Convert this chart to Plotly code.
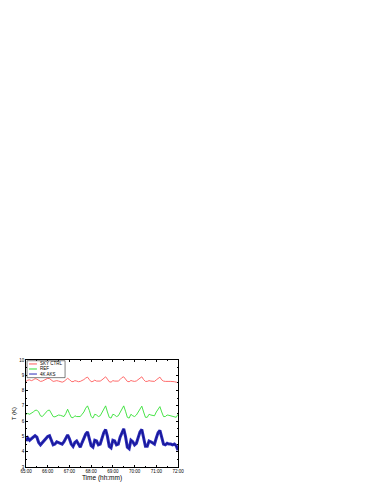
import plotly.graph_objects as go

# minutes after 65:00
minutes = [0, 5, 10, 15, 20, 25, 30, 35, 40, 45, 50, 55, 60, 65, 70, 75, 80, 85, 90, 95,
           100, 105, 110, 115, 120, 125, 130, 135, 140, 145, 150, 155, 160, 165, 170, 175, 180, 185, 190, 195,
           200, 205, 210, 215, 220, 225, 230, 235, 240, 245, 250, 255, 260, 265, 270, 275, 280, 285, 290, 295,
           300, 305, 310, 315, 320, 325, 330, 335, 340, 345, 350, 355, 360, 365, 370, 375, 380, 385, 390, 395,
           400, 405, 410, 415, 420]

sky_ctrl = [8.60, 8.68, 8.70, 8.65, 8.70, 8.78, 8.75, 8.65, 8.60, 8.62, 8.70, 8.75, 8.80, 8.78, 8.68, 8.60, 8.62, 8.65, 8.62, 8.60,
            8.55, 8.60, 8.70, 8.80, 8.72, 8.60, 8.58, 8.65, 8.62, 8.58, 8.60, 8.65, 8.72, 8.82, 8.88, 8.72, 8.58, 8.60, 8.68, 8.62,
            8.60, 8.62, 8.70, 8.82, 8.90, 8.75, 8.58, 8.55, 8.65, 8.62, 8.60, 8.62, 8.72, 8.85, 8.90, 8.72, 8.60, 8.58, 8.66, 8.62,
            8.60, 8.63, 8.72, 8.85, 8.90, 8.72, 8.60, 8.60, 8.65, 8.62, 8.62, 8.60, 8.70, 8.82, 8.88, 8.70, 8.62, 8.60, 8.62, 8.60,
            8.60, 8.60, 8.58, 8.55, 8.52]

ref = [6.45, 6.50, 6.45, 6.50, 6.60, 6.70, 6.72, 6.60, 6.35, 6.30, 6.45, 6.60, 6.70, 6.72, 6.50, 6.30, 6.28, 6.35, 6.40, 6.38,
       6.35, 6.30, 6.50, 6.78, 6.50, 6.25, 6.22, 6.35, 6.30, 6.28, 6.30, 6.45, 6.60, 6.85, 7.00, 6.70, 6.30, 6.20, 6.45, 6.40,
       6.30, 6.35, 6.60, 6.85, 7.00, 6.60, 6.25, 6.20, 6.45, 6.40, 6.30, 6.35, 6.60, 6.85, 7.00, 6.65, 6.25, 6.20, 6.45, 6.35,
       6.30, 6.40, 6.60, 6.85, 6.98, 6.60, 6.25, 6.25, 6.45, 6.40, 6.35, 6.35, 6.60, 6.80, 6.95, 6.60, 6.30, 6.30, 6.40, 6.38,
       6.35, 6.30, 6.30, 6.25, 6.45]

aks_4k = [4.70, 4.90, 4.75, 4.85, 4.95, 5.05, 4.95, 4.60, 4.45, 4.60, 4.70, 4.90, 5.00, 5.05, 4.80, 4.45, 4.50, 4.65, 4.60, 4.55,
          4.50, 4.65, 4.90, 5.10, 4.85, 4.50, 4.35, 4.60, 4.70, 4.45, 4.30, 4.60, 4.90, 5.15, 5.30, 4.90, 4.40, 4.30, 4.75, 4.70,
          4.45, 4.50, 4.90, 5.25, 5.45, 5.00, 4.35, 4.25, 4.75, 4.70, 4.45, 4.50, 4.95, 5.30, 5.50, 5.00, 4.30, 4.20, 4.75, 4.65,
          4.45, 4.55, 4.95, 5.30, 5.45, 4.95, 4.35, 4.35, 4.70, 4.65, 4.55, 4.50, 4.90, 5.25, 5.40, 4.90, 4.50, 4.45, 4.55, 4.50,
          4.50, 4.45, 4.50, 4.40, 4.10]

tick_minutes = [0, 60, 120, 180, 240, 300, 360, 420]
tick_labels = ["65:00", "66:00", "67:00", "68:00", "69:00", "70:00", "71:00", "72:00"]
series_names = ["SKY CTRL", "REF", "4K AKS"]
colors = ["#ff5a5a", "#33e033", "#2a2ab8"]

FONT = "Liberation Sans, Arial, sans-serif"

fig = go.Figure()
fig.add_trace(go.Scatter(x=minutes, y=aks_4k, mode="lines", name=series_names[2],
                         line=dict(color=colors[2], width=3), showlegend=False))
fig.add_trace(go.Scatter(x=minutes, y=aks_4k, mode="lines", name=series_names[2],
                         line=dict(color="#141490", width=1), showlegend=False))
fig.add_trace(go.Scatter(x=minutes, y=ref, mode="lines", name=series_names[1],
                         line=dict(color=colors[1], width=0.9), showlegend=False))
fig.add_trace(go.Scatter(x=minutes, y=sky_ctrl, mode="lines", name=series_names[0],
                         line=dict(color=colors[0], width=0.9), showlegend=False))

axis_common = dict(
    showgrid=False, zeroline=False, showline=True, linecolor="black", linewidth=0.8,
    mirror="allticks", ticks="inside", ticklen=2.5, tickwidth=0.6, tickcolor="black",
    tickfont=dict(family=FONT, size=4.5, color="black"),
)
fig.update_xaxes(range=[0, 420], tickvals=tick_minutes, ticktext=tick_labels,
                 minor=dict(dtick=30, ticklen=1.5, tickwidth=0.5, ticks="inside", tickcolor="black"),
                 title=dict(text="Time (hh:mm)", font=dict(family=FONT, size=6.5, color="black"), standoff=2),
                 **axis_common)
fig.update_yaxes(range=[3, 10], dtick=1,
                 minor=dict(dtick=0.5, ticklen=1.5, tickwidth=0.5, ticks="inside", tickcolor="black"),
                 title=dict(text="T (K)", font=dict(family=FONT, size=6, color="black"), standoff=2),
                 **axis_common)

# custom compact legend
leg_y = [0.963, 0.916, 0.869]
fig.add_shape(type="rect", xref="paper", yref="paper", x0=0.007, x1=0.257, y0=0.835, y1=0.993,
              line=dict(color="black", width=0.5), fillcolor="white")
for name, col, yy in zip(series_names, colors, leg_y):
    fig.add_shape(type="line", xref="paper", yref="paper", x0=0.02, x1=0.072, y0=yy, y1=yy,
                  line=dict(color=col, width=1))
    fig.add_annotation(xref="paper", yref="paper", x=0.08, y=yy, text=name, showarrow=False,
                       xanchor="left", yanchor="middle",
                       font=dict(family=FONT, size=4.5, color="black"))

fig.update_layout(
    width=366, height=478,
    margin=dict(l=18, r=196, t=352, b=19, autoexpand=False),
    paper_bgcolor="white", plot_bgcolor="white",
    showlegend=False,
)

fig.write_html("out.html")
